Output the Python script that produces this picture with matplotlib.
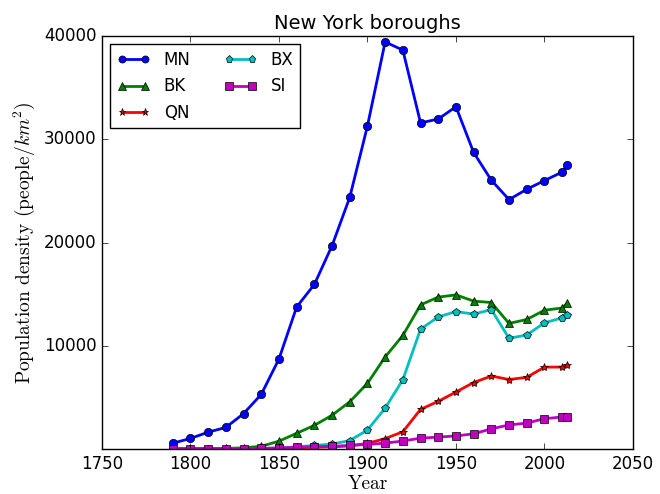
import matplotlib as mpl
mpl.use('Agg')
import matplotlib.pyplot as plt

plt.style.use('classic')
mpl.rcParams['mathtext.fontset'] = 'cm'

# population density (people / km^2) per census year
years = [1790, 1800, 1810, 1820, 1830, 1840, 1850, 1860, 1870, 1880, 1890, 1900,
         1910, 1920, 1930, 1940, 1950, 1960, 1970, 1980, 1990, 2000, 2010, 2013]
mn = [560, 1023, 1630, 2092, 3426, 5288, 8719, 13761, 15936, 19697, 24374, 31289,
      39431, 38628, 31580, 31962, 33149, 28721, 26031, 24155, 25157, 25997, 26820, 27501]
bk = [25, 31, 45, 61, 112, 260, 757, 1522, 2289, 3268, 4572, 6360,
      8911, 11004, 13959, 14711, 14928, 14324, 14186, 12163, 12543, 13441, 13655, 14132]
qn = [22, 24, 26, 29, 32, 52, 66, 117, 162, 201, 310, 544,
      1010, 1669, 3839, 4616, 5517, 6438, 7067, 6729, 6943, 7931, 7936, 8169]
bx = [16, 16, 21, 26, 28, 49, 74, 216, 343, 477, 815, 1839,
      3953, 6713, 11604, 12791, 13310, 13067, 13497, 10721, 11040, 12222, 12703, 13011]
si = [25, 30, 35, 41, 47, 73, 100, 169, 218, 258, 342, 443,
      569, 771, 1047, 1154, 1267, 1468, 1954, 2329, 2507, 2935, 3100, 3126]

fig = plt.figure(figsize=(6.6, 4.94), dpi=100)
ax = fig.add_axes([0.1545, 0.0911, 0.8045, 0.836])

ax.plot(years, mn, 'b-o', lw=2, ms=6, label='MN')
ax.plot(years, bk, 'g-^', lw=2, ms=6, label='BK')
ax.plot(years, qn, 'r-*', lw=2, ms=6, label='QN')
ax.plot(years, bx, 'c-p', lw=2, ms=6, label='BX')
ax.plot(years, si, 'm-s', lw=2, ms=6, label='SI')

ax.set_xlim(1750, 2050)
ax.set_ylim(0, 40000)
ax.set_xticks(range(1750, 2051, 50))
ax.set_yticks([10000, 20000, 30000, 40000])
ax.tick_params(labelsize=12)

ax.set_title('New York boroughs', fontsize=14)
ax.set_xlabel('Year', fontsize=14, family='cmr10', labelpad=2)
ax.set_ylabel(r'Population density (people/$km^2$)', fontsize=14, family='cmr10')

ax.legend(loc='upper left', ncol=2, fontsize=12, numpoints=2, markerscale=0.85)

fig.savefig('out.png', dpi=100)
